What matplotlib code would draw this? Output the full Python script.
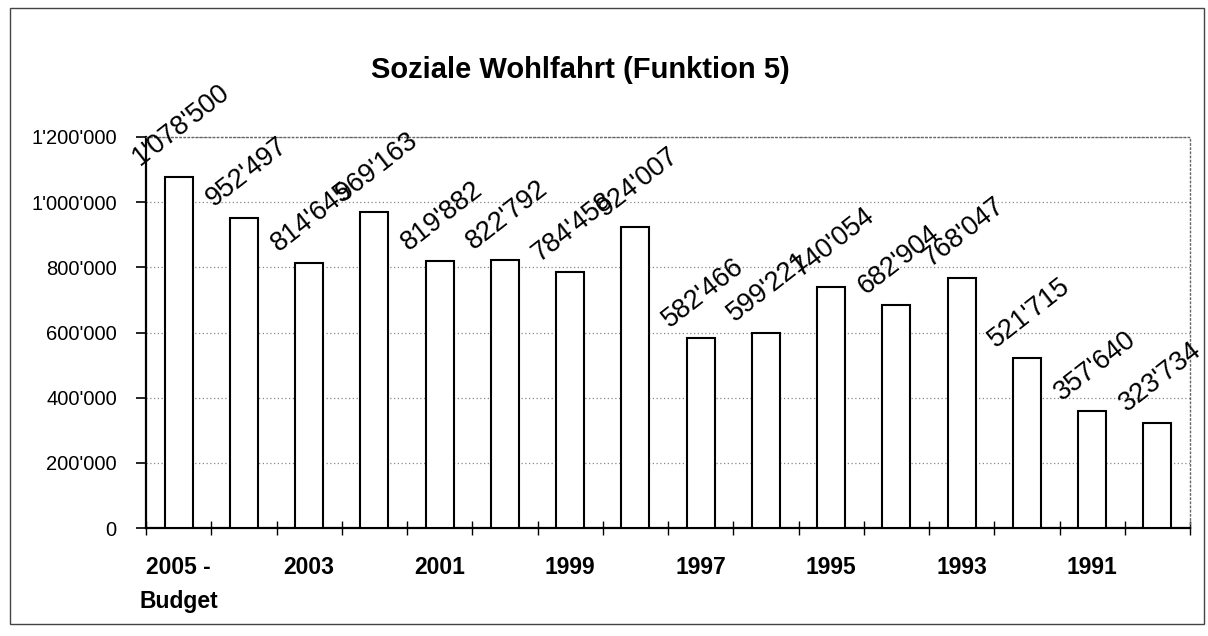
import matplotlib
matplotlib.use("Agg")
import matplotlib.pyplot as plt
import numpy as np
from matplotlib.patches import Rectangle

years = ["2005 -\nBudget", "2004", "2003", "2002", "2001", "2000", "1999", "1998",
         "1997", "1996", "1995", "1994", "1993", "1992", "1991", "1990"]
values = [1078500, 952497, 814645, 969163, 819882, 822792, 784458, 924007,
          582466, 599221, 740054, 682904, 768047, 521715, 357640, 323734]
yticks = [0, 200000, 400000, 600000, 800000, 1000000, 1200000]
title = "Soziale Wohlfahrt (Funktion 5)"

def fmt(v):
    return f"{v:,}".replace(",", "'")

plt.rcParams['font.family'] = ['Liberation Sans', 'DejaVu Sans']

fig = plt.figure(figsize=(12.08, 6.36), dpi=100)
ax = fig.add_axes([146/1208, 1-528/636, (1190-146)/1208, (528-137)/636])

x = np.arange(len(values))
ax.bar(x, values, width=0.43, color="white", edgecolor="black", linewidth=1.5, zorder=3)

for xi, v in zip(x, values):
    ax.annotate(fmt(v), (xi, v), xytext=(2, 4), textcoords="offset points",
                rotation=38, ha="center", va="bottom", fontsize=19.5, zorder=4,
                annotation_clip=False)

ax.set_xlim(-0.5, len(values) - 0.5)
ax.set_ylim(0, 1200000)
ax.set_yticks(yticks)
ax.set_yticklabels([fmt(t) for t in yticks], fontsize=14.5)
ax.yaxis.grid(True, linestyle=(0, (1, 2)), color="#888888", linewidth=0.9, zorder=0)
ax.tick_params(axis="y", direction="out", length=7, width=1.2, pad=14)

major = x[::2]
ax.set_xticks(major)
ax.set_xticklabels([years[i] for i in major], fontsize=16.5, fontweight="bold",
                   va="top", linespacing=1.6)
ax.tick_params(axis="x", which="major", length=0, pad=20)
ax.set_xticks(np.arange(-0.5, len(values)), minor=True)
ax.tick_params(axis="x", which="minor", direction="inout", length=10, width=1.0)

for s in ["left", "bottom"]:
    ax.spines[s].set_linewidth(1.6)
    ax.spines[s].set_color("black")
for s in ["top", "right"]:
    ax.spines[s].set_linestyle((0, (1, 2)))
    ax.spines[s].set_color("#666666")
    ax.spines[s].set_linewidth(1.0)

fig.text(580/1208, 1-70/636, title, ha="center", va="center", fontsize=21, fontweight="bold")

fig.patches.append(Rectangle((10/1208, 1-624/636), (1204-10)/1208, (624-8)/636,
                             transform=fig.transFigure, fill=False, edgecolor="#444444",
                             linewidth=1.0))

fig.savefig("out.png", dpi=100)
